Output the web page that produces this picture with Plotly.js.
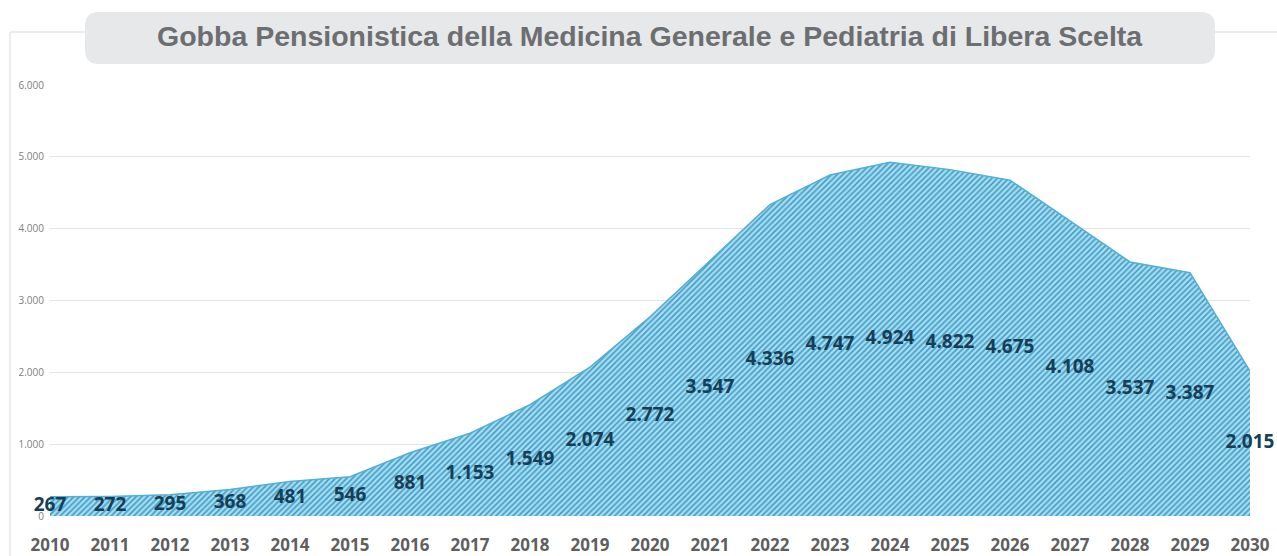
<!DOCTYPE html>
<html>
<head>
<meta charset="utf-8">
<script src="https://cdn.plot.ly/plotly-3.0.1.min.js"></script>
<style>html,body{margin:0;padding:0;background:#fff;}#chart{width:1277px;height:556px;}</style>
</head>
<body>
<div id="chart"></div>
<script>
const years = [2010,2011,2012,2013,2014,2015,2016,2017,2018,2019,2020,2021,2022,2023,2024,2025,2026,2027,2028,2029,2030];
const pensionamenti = [267,272,295,368,481,546,881,1153,1549,2074,2772,3547,4336,4747,4924,4822,4675,4108,3537,3387,2015];
const yTicks = [0,1000,2000,3000,4000,5000,6000];
const chartTitle = 'Gobba Pensionistica della Medicina Generale e Pediatria di Libera Scelta';

function fmt(v){ return String(v).replace(/\B(?=(\d{3})+(?!\d))/g,'.'); }

const area = {
  type:'scatter', mode:'lines', x:years, y:pensionamenti,
  fill:'tozeroy',
  fillcolor:'#8fcde6',
  fillpattern:{shape:'/', bgcolor:'#abdcf0', fgcolor:'#3d9fca', size:4, solidity:0.42},
  line:{color:'#55aed3', width:1.5},
  hoverinfo:'skip', showlegend:false
};
const labels = {
  type:'scatter', mode:'text', x:years, y:pensionamenti.map(v=>v/2),
  text:pensionamenti.map(fmt), textposition:'middle center',
  textfont:{family:'Open Sans', size:19, color:'#163f57', weight:'bold'},
  cliponaxis:false, hoverinfo:'skip', showlegend:false
};

// plot area in px: x 50..1250, y 85..516
const W=1200, H=431;
const px = p => (p-50)/W, py = p => (516-p)/H;
const bx0=px(85), bx1=px(1215), by0=py(64), by1=py(12), rx=14/W, ry=14/H;
const boxPath = `M ${bx0+rx} ${by1} L ${bx1-rx} ${by1} Q ${bx1} ${by1} ${bx1} ${by1-ry} L ${bx1} ${by0+ry} Q ${bx1} ${by0} ${bx1-rx} ${by0} L ${bx0+rx} ${by0} Q ${bx0} ${by0} ${bx0} ${by0+ry} L ${bx0} ${by1-ry} Q ${bx0} ${by1} ${bx0+rx} ${by1} Z`;

const layout = {
  width:1277, height:556,
  margin:{l:50, r:27, t:85, b:40},
  paper_bgcolor:'#ffffff', plot_bgcolor:'#ffffff',
  separators:',.',
  showlegend:false,
  xaxis:{range:[2010,2030], tickvals:years, ticktext:years.map(String),
    showgrid:false, zeroline:false, showline:false, ticks:'',
    ticklabelstandoff:17,
    tickfont:{family:'Open Sans', size:17, color:'#5f5f5f', weight:'bold'}},
  yaxis:{range:[0,6000], tickvals:yTicks, tickformat:',', showgrid:true,
    gridcolor:'#e3e3e3', gridwidth:1, zeroline:false, showline:false, ticks:'',
    ticklabelstandoff:5,
    tickfont:{family:'Open Sans', size:10, color:'#808080'}},
  shapes:[
    {type:'rect', xref:'paper', yref:'paper', x0:px(10), x1:px(1300), y0:py(620), y1:py(32),
      line:{color:'#dadada', width:1}, fillcolor:'rgba(0,0,0,0)', layer:'below'},
    {type:'path', xref:'paper', yref:'paper', path:boxPath, fillcolor:'#e7e8ea', line:{width:0}, layer:'above'}
  ],
  annotations:[
    {xref:'paper', yref:'paper', x:px(650), y:py(36), text:chartTitle, showarrow:false,
      xanchor:'center', yanchor:'middle',
      font:{family:'Liberation Sans, Arial', size:28.5, color:'#6d6e71', weight:'bold'}}
  ]
};
Plotly.newPlot('chart',[area,labels],layout,{staticPlot:true, displayModeBar:false});
</script>
</body>
</html>
